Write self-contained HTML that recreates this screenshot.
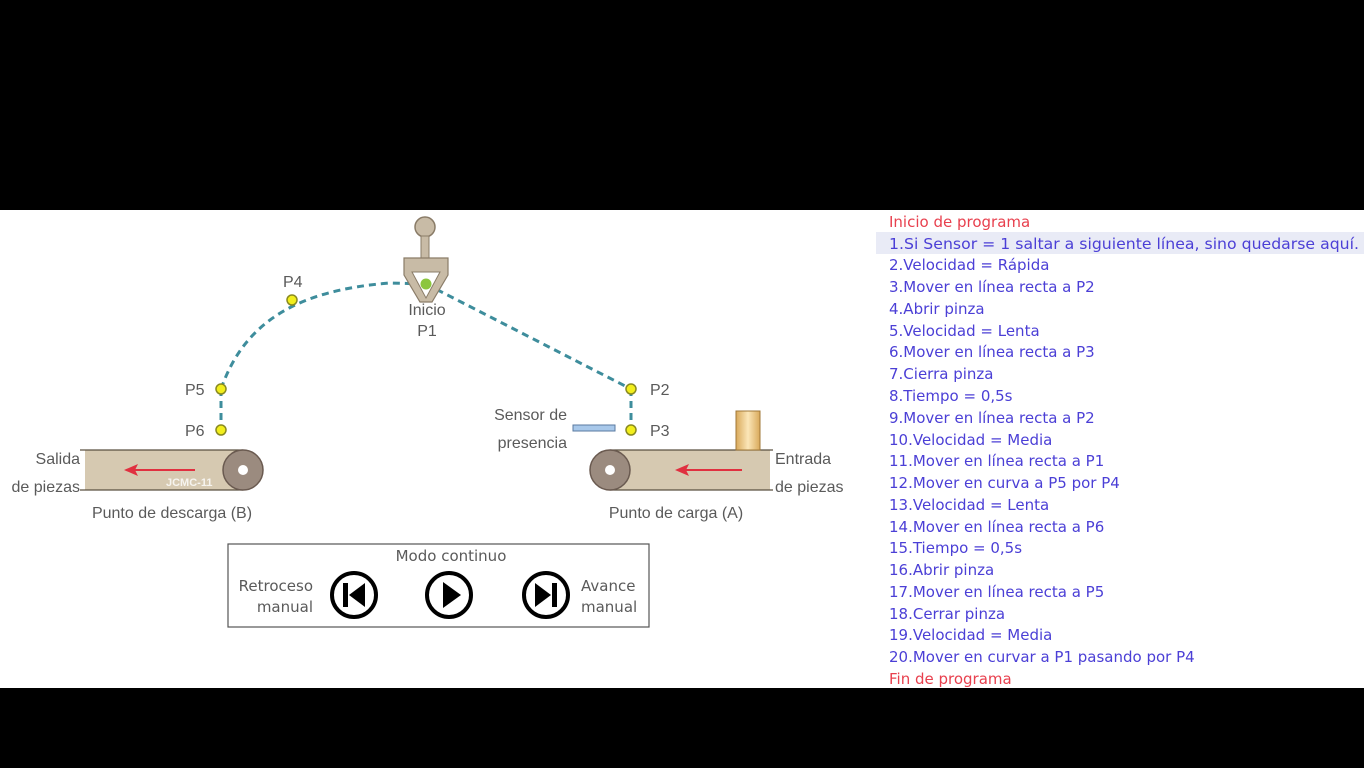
<!DOCTYPE html>
<html><head><meta charset="utf-8"><style>
html,body{margin:0;padding:0;background:#000;width:1364px;height:768px;overflow:hidden}
svg{display:block}
.g{font-family:"Liberation Sans","DejaVu Sans",sans-serif;font-size:16px;fill:#5a5a5a}
.p{font-family:"DejaVu Sans","Liberation Sans",sans-serif;font-size:15px;fill:#4b3fd6}
.r{font-family:"DejaVu Sans","Liberation Sans",sans-serif;font-size:15px;fill:#e8404e}
.c{font-family:"DejaVu Sans","Liberation Sans",sans-serif;font-size:15px;fill:#5a5a5a}
</style></head><body>
<svg width="1364" height="768" viewBox="0 0 1364 768" xmlns="http://www.w3.org/2000/svg">
<defs><linearGradient id="gold" x1="0" x2="1"><stop offset="0" stop-color="#d9a95a"/><stop offset="0.5" stop-color="#fbe6b8"/><stop offset="1" stop-color="#d9a95a"/></linearGradient></defs>
<rect x="0" y="0" width="1364" height="768" fill="#000"/>
<rect x="0" y="210" width="1364" height="478" fill="#fff"/>
<rect x="876" y="232" width="488" height="22" fill="#e9ebf6"/>
<g fill="none" stroke="#3e8d9c" stroke-width="3" stroke-dasharray="7 5">
<path d="M221,389 C245,320 300,290 390,283 L426,284"/>
<path d="M426,284 L631,389"/>
<path d="M221,389 L221,430"/>
<path d="M631,389 L631,430"/>
</g>
<circle cx="425" cy="227" r="10" fill="#c8bba6" stroke="#8a7c68" stroke-width="1.5"/>
<rect x="421" y="236" width="8" height="22" fill="#c8bba6" stroke="#8a7c68" stroke-width="1"/>
<path d="M404,258 L448,258 L448,275 L432,302 L420,302 L404,275 Z" fill="#c8bba6" stroke="#8a7c68" stroke-width="1.2"/>
<path d="M412,272 L440,272 L426,298 Z" fill="#fff" stroke="#8a7c68" stroke-width="1"/>
<circle cx="426" cy="284" r="5.5" fill="#8cc63f"/>
<g fill="#f2ee1c" stroke="#8a8a20" stroke-width="1.5">
<circle cx="292" cy="300" r="5"/><circle cx="221" cy="389" r="5"/><circle cx="221" cy="430" r="5"/>
<circle cx="631" cy="389" r="5"/><circle cx="631" cy="430" r="5"/>
</g>
<text class="g" x="283" y="287">P4</text>
<text class="g" x="185" y="395">P5</text>
<text class="g" x="185" y="436">P6</text>
<text class="g" x="650" y="395">P2</text>
<text class="g" x="650" y="436">P3</text>
<text class="g" x="427" y="315" text-anchor="middle">Inicio</text>
<text class="g" x="427" y="336" text-anchor="middle">P1</text>
<rect x="85" y="450" width="158" height="40" fill="#d6c9b1"/>
<line x1="80" y1="450" x2="243" y2="450" stroke="#5a5040" stroke-width="1.2"/>
<line x1="80" y1="490" x2="243" y2="490" stroke="#5a5040" stroke-width="1.2"/>
<line x1="195" y1="470" x2="135" y2="470" stroke="#e03040" stroke-width="2"/>
<path d="M124,470 L138,464 L135,470 L138,476 Z" fill="#e03040"/>
<text x="166" y="486" font-family="Liberation Sans,sans-serif" font-size="11" font-weight="bold" fill="#fff" opacity="0.8">JCMC-11</text>
<circle cx="243" cy="470" r="20" fill="#9b8b7f" stroke="#6a5a50" stroke-width="1.5"/>
<circle cx="243" cy="470" r="5" fill="#fff"/>
<text class="g" x="80" y="464" text-anchor="end">Salida</text>
<text class="g" x="80" y="492" text-anchor="end">de piezas</text>
<text class="g" x="172" y="518" text-anchor="middle">Punto de descarga (B)</text>
<rect x="610" y="450" width="160" height="40" fill="#d6c9b1"/>
<line x1="610" y1="450" x2="773" y2="450" stroke="#5a5040" stroke-width="1.2"/>
<line x1="610" y1="490" x2="773" y2="490" stroke="#5a5040" stroke-width="1.2"/>
<line x1="742" y1="470" x2="686" y2="470" stroke="#e03040" stroke-width="2"/>
<path d="M675,470 L689,464 L686,470 L689,476 Z" fill="#e03040"/>
<circle cx="610" cy="470" r="20" fill="#9b8b7f" stroke="#6a5a50" stroke-width="1.5"/>
<circle cx="610" cy="470" r="5" fill="#fff"/>
<rect x="736" y="411" width="24" height="39" fill="url(#gold)" stroke="#a07838" stroke-width="1"/>
<rect x="573" y="425" width="42" height="6" fill="#a8c8ea" stroke="#5a7aa0" stroke-width="1"/>
<text class="g" x="775" y="464">Entrada</text>
<text class="g" x="775" y="492">de piezas</text>
<text class="g" x="676" y="518" text-anchor="middle">Punto de carga (A)</text>
<text class="g" x="567" y="420" text-anchor="end">Sensor de</text>
<text class="g" x="567" y="448" text-anchor="end">presencia</text>
<rect x="228" y="544" width="421" height="83" fill="#fff" stroke="#555" stroke-width="1.2"/>
<text class="c" x="451" y="561" text-anchor="middle">Modo continuo</text>
<text class="c" x="313" y="591" text-anchor="end">Retroceso</text>
<text class="c" x="313" y="612" text-anchor="end">manual</text>
<text class="c" x="581" y="591">Avance</text>
<text class="c" x="581" y="612">manual</text>
<g fill="none" stroke="#000" stroke-width="4">
<circle cx="354" cy="595" r="22"/><circle cx="449" cy="595" r="22"/><circle cx="546" cy="595" r="22"/>
</g>
<rect x="343" y="583" width="5" height="24" fill="#000"/>
<path d="M365,583 L349,595 L365,607 Z" fill="#000"/>
<path d="M443,582 L461,595 L443,608 Z" fill="#000"/>
<path d="M535,583 L551,595 L535,607 Z" fill="#000"/>
<rect x="552" y="583" width="5" height="24" fill="#000"/>
<text class="r" x="889" y="227">Inicio de programa</text>
<text class="p" x="889" y="249" textLength="470" lengthAdjust="spacingAndGlyphs">1.Si  Sensor = 1 saltar a siguiente línea, sino quedarse aquí.</text>
<text class="p" x="889" y="270">2.Velocidad = Rápida</text>
<text class="p" x="889" y="292">3.Mover en línea recta a P2</text>
<text class="p" x="889" y="314">4.Abrir pinza</text>
<text class="p" x="889" y="336">5.Velocidad = Lenta</text>
<text class="p" x="889" y="357">6.Mover en línea recta a P3</text>
<text class="p" x="889" y="379">7.Cierra pinza</text>
<text class="p" x="889" y="401">8.Tiempo = 0,5s</text>
<text class="p" x="889" y="423">9.Mover en línea recta a P2</text>
<text class="p" x="889" y="445">10.Velocidad = Media</text>
<text class="p" x="889" y="466">11.Mover en línea recta a P1</text>
<text class="p" x="889" y="488">12.Mover en curva a P5 por P4</text>
<text class="p" x="889" y="510">13.Velocidad =  Lenta</text>
<text class="p" x="889" y="532">14.Mover en línea recta a P6</text>
<text class="p" x="889" y="553">15.Tiempo = 0,5s</text>
<text class="p" x="889" y="575">16.Abrir pinza</text>
<text class="p" x="889" y="597">17.Mover en línea recta a P5</text>
<text class="p" x="889" y="619">18.Cerrar pinza</text>
<text class="p" x="889" y="640">19.Velocidad = Media</text>
<text class="p" x="889" y="662">20.Mover en curvar a P1 pasando por P4</text>
<text class="r" x="889" y="684">Fin de programa</text>
</svg>
</body></html>
